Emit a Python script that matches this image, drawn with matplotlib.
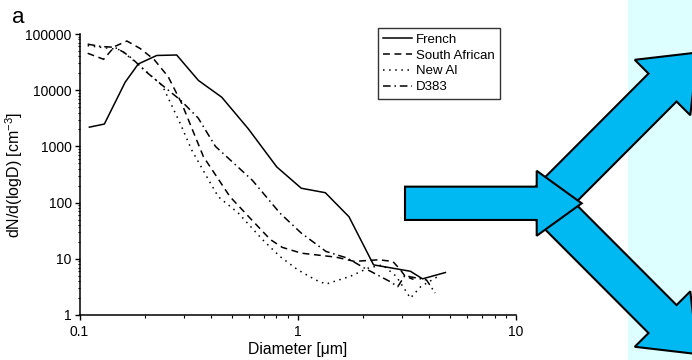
import numpy as np
import matplotlib
matplotlib.use("Agg")
import matplotlib.pyplot as plt
from matplotlib.patches import Polygon, Rectangle
from matplotlib.ticker import FixedLocator, LogLocator, NullFormatter

plt.rcParams['font.family'] = ['Liberation Sans', 'DejaVu Sans']
plt.rcParams['mathtext.default'] = 'regular'

# size distributions, dN/d(logD) vs diameter (um)
french_x = [0.111, 0.130, 0.162, 0.186, 0.226, 0.279, 0.351, 0.449, 0.594, 0.803,
            1.04, 1.34, 1.72, 2.23, 3.29, 3.74, 4.76]
french_y = [2200, 2500, 13900, 29300, 41500, 42300, 14900, 7500, 2060, 430,
            180, 150, 56, 7.8, 6.0, 4.4, 5.7]

safr_x = [0.109, 0.129, 0.145, 0.165, 0.19, 0.22, 0.255, 0.294, 0.37, 0.49, 0.62,
          0.75, 0.85, 1.04, 1.5, 1.82, 2.35, 2.73, 2.95, 3.11, 3.4]
safr_y = [45400, 35500, 60000, 75000, 55000, 35000, 17400, 5850, 656, 127, 48,
          22, 16, 12.6, 10.7, 9.0, 9.6, 9.0, 6.5, 4.9, 4.3]

newal_x = [0.109, 0.125, 0.14, 0.155, 0.165, 0.18, 0.196, 0.24, 0.289, 0.327, 0.383,
           0.433, 0.535, 0.69, 0.83, 1.0, 1.21, 1.35, 1.75, 2.1, 2.45, 2.83, 3.29,
           3.67, 4.42]
newal_y = [62000, 58000, 55000, 52000, 42000, 32000, 24000, 12000, 2600, 860, 290,
           127, 65, 22, 11, 6.4, 4.2, 3.55, 4.9, 6.8, 7.8, 4.9, 2.0, 3.2, 4.9]

d383_x = [0.109, 0.125, 0.145, 0.16, 0.175, 0.2, 0.235, 0.29, 0.35, 0.42, 0.62,
          0.83, 1.04, 1.35, 1.69, 2.03, 2.63, 2.88, 3.1, 3.9, 4.27]
d383_y = [66000, 60000, 58000, 47000, 36000, 22000, 13000, 6700, 3200, 1000, 250,
          65, 28.6, 13.5, 10.3, 6.8, 4.0, 3.2, 5.0, 4.2, 2.46]

yticks = [1, 10, 100, 1000, 10000, 100000]
ytick_labels = ['1', '10', '100', '1000', '10000', '100000']
xticks = [0.1, 1, 10]
xtick_labels = ['0.1', '1', '10']

W, H = 692, 360
fig = plt.figure(figsize=(W / 100, H / 100), dpi=100)
ax = fig.add_axes([79.5 / W, 45 / H, 436.2 / W, 281 / H])

ax.plot(french_x, french_y, color='black', lw=1.1, ls='-', label='French')
ax.plot(safr_x, safr_y, color='black', lw=1.1, ls=(0, (4.5, 3)), label='South African')
ax.plot(newal_x, newal_y, color='black', lw=1.1, ls=(0, (1, 3)), label='New Al')
ax.plot(d383_x, d383_y, color='black', lw=1.1, ls=(0, (5, 2.5, 1, 2.5)), label='D383')

ax.set_xscale('log')
ax.set_yscale('log')
ax.set_xlim(0.1, 10)
ax.set_ylim(1, 100000)
ax.xaxis.set_major_locator(FixedLocator(xticks))
ax.set_xticklabels(xtick_labels)
ax.yaxis.set_major_locator(FixedLocator(yticks))
ax.set_yticklabels(ytick_labels)
ax.xaxis.set_minor_locator(LogLocator(base=10, subs=np.arange(2, 10)))
ax.yaxis.set_minor_locator(LogLocator(base=10, subs=np.arange(2, 10)))
ax.xaxis.set_minor_formatter(NullFormatter())
ax.yaxis.set_minor_formatter(NullFormatter())
ax.tick_params(which='major', direction='out', length=3.5, width=1, labelsize=10, pad=2)
ax.tick_params(which='minor', direction='out', length=1.8, width=0.8)
ax.tick_params(axis='x', which='major', pad=4)
for side in ['top', 'right']:
    ax.spines[side].set_visible(False)
for side in ['left', 'bottom']:
    ax.spines[side].set_linewidth(1.1)
ax.patch.set_alpha(0)

ax.set_xlabel('Diameter [μm]', fontsize=11.3, labelpad=2)
ax.set_ylabel(r'dN/d(logD) [cm$^{-3}$]', fontsize=11.5, labelpad=0)

leg = ax.legend(loc='upper left', bbox_to_anchor=(0.684, 1.021), borderaxespad=0,
                fontsize=9.5, frameon=True, fancybox=False, edgecolor='black',
                handlelength=2.2, handletextpad=0.3, labelspacing=0.28, borderpad=0.4)
leg.get_frame().set_linewidth(1.0)

fig.text(12 / W, 1 - 23 / H, 'a', fontsize=16)

# arrows on top, drawn in pixel coordinates
ov = fig.add_axes([0, 0, 1, 1], zorder=5)
ov.set_xlim(0, W)
ov.set_ylim(H, 0)
ov.axis('off')
ov.patch.set_alpha(0)

ov.add_patch(Rectangle((628, 0), W - 628, H, facecolor='#DEFFFF', edgecolor='none', zorder=0))


def arrow_poly(tail, tip, shaft_w, head_w, head_len):
    tail = np.asarray(tail, float)
    tip = np.asarray(tip, float)
    d = tip - tail
    d /= np.hypot(*d)
    n = np.array([-d[1], d[0]])
    base = tip - d * head_len
    pts = [tail + n * shaft_w / 2, base + n * shaft_w / 2, base + n * head_w / 2, tip,
           base - n * head_w / 2, base - n * shaft_w / 2, tail - n * shaft_w / 2]
    return np.array(pts)


blue = '#00B9F2'
for tip in [(697.5, 52.5), (697.5, 354.1)]:
    ov.add_patch(Polygon(arrow_poly((547, 203.3), tip, 39.6, 78.5, 49.5), closed=True,
                         facecolor=blue, edgecolor='black', lw=1.5, joinstyle='miter',
                         zorder=2, clip_on=False))
ov.add_patch(Polygon(arrow_poly((405, 203.3), (581.7, 203.3), 33.3, 65, 45), closed=True,
                     facecolor=blue, edgecolor='black', lw=1.5, joinstyle='miter',
                     zorder=3, clip_on=False))

fig.savefig('out.png', dpi=100)
